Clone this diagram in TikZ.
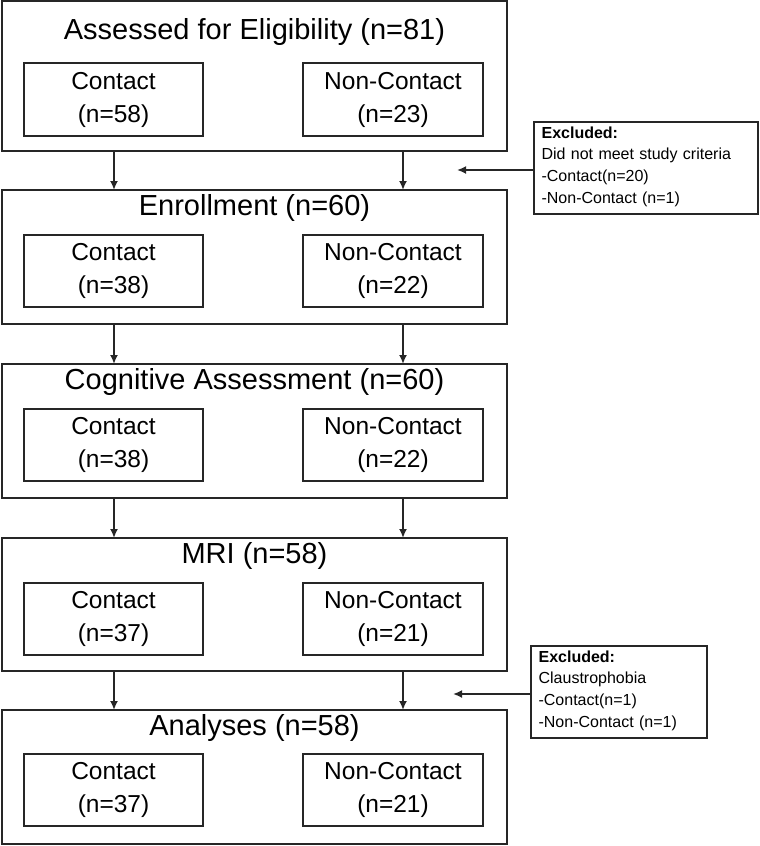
\documentclass[tikz,border=0pt]{standalone}
\usepackage{fontspec}
\usetikzlibrary{arrows.meta}
\setmainfont{Liberation Sans}
\begin{document}
\begin{tikzpicture}[x=1pt,y=-1pt,
  box/.style={draw=black!85,line width=1.4pt},
  ttl/.style={font=\fontsize{29}{34}\selectfont},
  inn/.style={draw=black!85,line width=1.4pt,align=center,font=\fontsize{24.5}{33}\selectfont,inner sep=0},
  exc/.style={draw=black!85,line width=1.2pt,align=left,font=\fontsize{16}{21.7}\selectfont,inner sep=0pt,text width=210},
  arr/.style={-{Latex[length=9pt,width=8pt]},line width=2pt,black!85}]
\useasboundingbox (0,0) rectangle (760,846);
\foreach \n/\ya/\yb/\ti/\ty/\ia/\ib/\c/\nc in {
 1/1/151/{Assessed for Eligibility (n=81)}/32/63/136/58/23,
 2/190/324/{Enrollment (n=60)}/208/235/307/38/22,
 3/364/498/{Cognitive Assessment (n=60)}/382/409/481/38/22,
 4/538/671/{MRI (n=58)}/556/583/655/37/21,
 5/710/844/{Analyses (n=58)}/728/754/826/37/21}{
  \draw[box] (2,\ya) rectangle (507,\yb);
  \coordinate (t\n) at (114,\ya); \coordinate (u\n) at (403,\ya);
  \coordinate (b\n) at (114,\yb); \coordinate (v\n) at (403,\yb);
  \node[ttl] (title\n) at (254.5,\ty) {\ti};
  \node[inn,minimum width=179,minimum height={\ib-\ia}] (c\n) at (113.5,{(\ia+\ib)/2}) {Contact\\(n=\c)};
  \node[inn,minimum width=180,minimum height={\ib-\ia}] (nc\n) at (393,{(\ia+\ib)/2}) {Non-Contact\\(n=\nc)};
}
\foreach \a/\b in {1/2,2/3,3/4,4/5}{
  \draw[arr] (b\a) -- (t\b);
  \draw[arr] (v\a) -- (u\b);
}
\draw[draw=black!85,line width=1.2pt] (534,122) rectangle (758,214);
\node[exc,draw=none,anchor=north west] (e1) at (541,126) {\textbf{Excluded:}\\Did not meet study criteria\\-Contact(n=20)\\-Non-Contact (n=1)};
\draw[draw=black!85,line width=1.2pt] (531,646) rectangle (707,738);
\node[exc,draw=none,anchor=north west] (e2) at (538,650) {\textbf{Excluded:}\\Claustrophobia\\-Contact(n=1)\\-Non-Contact (n=1)};
\coordinate (s1) at (534,170); \coordinate (p1) at (457,170);
\coordinate (s2) at (531,694); \coordinate (p2) at (453,694);
\draw[arr] (s1) -- (p1);
\draw[arr] (s2) -- (p2);
\end{tikzpicture}
\end{document}
